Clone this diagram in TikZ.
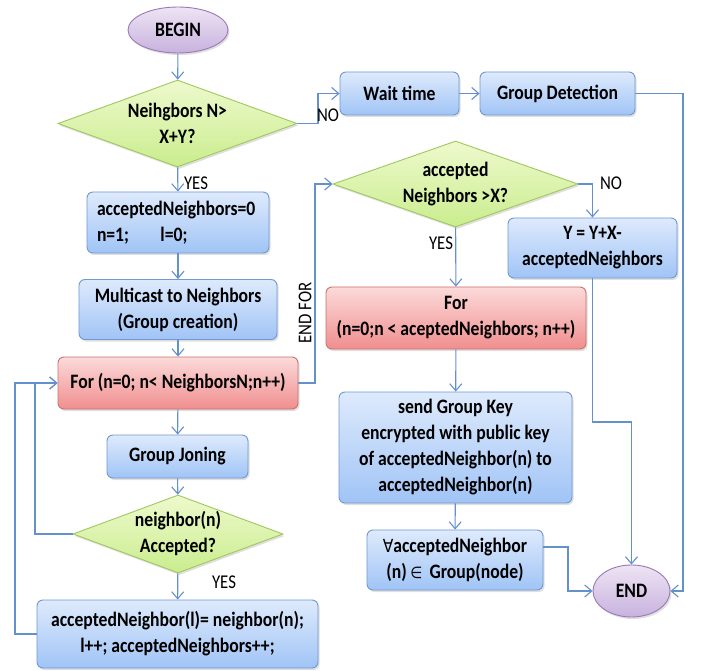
\documentclass[tikz,border=0pt]{standalone}
\usepackage{fontspec}
\setmainfont{Carlito}[FakeStretch=0.86]
\newfontfamily\symfont{DejaVu Sans}[FakeStretch=0.86]
\usetikzlibrary{shapes.geometric,arrows.meta,shadows}
\definecolor{bluetop}{RGB}{222,234,252}
\definecolor{bluebot}{RGB}{160,196,246}
\definecolor{blueline}{RGB}{112,152,210}
\definecolor{redtop}{RGB}{252,218,218}
\definecolor{redbot}{RGB}{240,142,142}
\definecolor{redline}{RGB}{205,112,112}
\definecolor{greentop}{RGB}{238,249,205}
\definecolor{greenbot}{RGB}{202,237,142}
\definecolor{greenline}{RGB}{160,200,92}
\definecolor{purptop}{RGB}{238,228,244}
\definecolor{purpbot}{RGB}{200,178,222}
\definecolor{purpline}{RGB}{152,122,182}
\definecolor{conncol}{RGB}{100,145,206}
\tikzset{
  txt/.style={font=\bfseries\fontsize{20.5}{26}\selectfont, align=center, inner sep=1pt},
  shad/.style={drop shadow={opacity=0.25, shadow xshift=1.5pt, shadow yshift=-2pt}},
  bluebox/.style={txt, shad, draw=blueline, line width=0.9pt, rounded corners=6pt, top color=bluetop, bottom color=bluebot},
  redbox/.style={txt, shad, draw=redline, line width=0.9pt, rounded corners=6pt, top color=redtop, bottom color=redbot},
  decision/.style={txt, shad, diamond, draw=greenline, line width=0.9pt, top color=greentop, bottom color=greenbot, inner sep=0pt},
  terminal/.style={txt, shad, ellipse, draw=purpline, line width=0.9pt, top color=purptop, bottom color=purpbot, inner sep=0pt},
  conn/.style={draw=conncol, line width=1.1pt, -{Straight Barb[length=7pt,width=12pt]}},
  lbl/.style={font=\fontsize{19.5}{20}\selectfont, inner sep=0pt},
}
\begin{document}
\begin{tikzpicture}[x=1pt,y=-1pt]
\useasboundingbox[fill=white] (0,0) rectangle (702,671);

\node[terminal, minimum width=100, minimum height=46] (begin) at (178,30) {BEGIN};
\node[decision, minimum width=239, minimum height=87, aspect=2.75] (d1) at (177.5,123.5) {Neihgbors N>\\X+Y?};
\node[bluebox, align=left, minimum width=182, minimum height=61, text width=162] (init) at (178,222.5) {acceptedNeighbors=0\\n=1;\hspace{1.2em} l=0;};
\node[bluebox, minimum width=198, minimum height=60] (mcast) at (178,309.5) {Multicast to Neighbors\\(Group creation)};
\node[redbox, minimum width=240, minimum height=52] (for1) at (178,383) {For (n=0; n< NeighborsN;n++)};
\node[bluebox, minimum width=141, minimum height=43] (join) at (177.5,456.5) {Group Joning};
\node[decision, minimum width=210, minimum height=78, aspect=2.7] (d2) at (178,534) {neighbor(n)\\Accepted?};
\node[bluebox, minimum width=281, minimum height=68] (assign) at (177.5,634) {acceptedNeighbor(l)= neighbor(n);\\l++; acceptedNeighbors++;};

\node[bluebox, minimum width=119, minimum height=43] (wait) at (399.5,93.5) {Wait time};
\node[bluebox, minimum width=155, minimum height=43] (detect) at (557.5,93.5) {Group Detection};
\node[decision, minimum width=245, minimum height=86, aspect=2.85] (d3) at (455.5,184) {accepted\\Neighbors >X?};
\node[bluebox, minimum width=169, minimum height=60] (ybox) at (592.5,248) {Y = Y+X-\\acceptedNeighbors};
\node[redbox, minimum width=260, minimum height=62] (for2) at (456,318) {For\\(n=0;n < aceptedNeighbors; n++)};
\node[bluebox, minimum width=233, minimum height=111] (send) at (455.5,447.5) {send Group Key\\encrypted with public key\\of acceptedNeighbor(n) to\\acceptedNeighbor(n)};
\node[bluebox, minimum width=176, minimum height=60] (forall) at (455,560) {{\mdseries\symfont\fontsize{18}{26}\selectfont ∀}acceptedNeighbor\\(n)\,{\mdseries\symfont\fontsize{16}{26}\selectfont ∈}\, Group(node)};
\node[terminal, minimum width=77, minimum height=52] (end) at (631.5,591) {END};

% connectors
\draw[conn] (begin) -- (d1);
\draw[conn] (d1) -- (init);
\draw[conn] (init) -- (mcast);
\draw[conn] (mcast) -- (for1);
\draw[conn] (for1) -- (join);
\draw[conn] (join) -- (d2);
\draw[conn] (d2) -- (assign);
\draw[conn] (d1.east) -- (318,123.5) |- (wait.west);
\draw[conn] (wait) -- (detect);
\draw[conn] (detect.east) -- (683,93.5) |- (end.east);
\draw[conn] (for1.east) -- (315,383) |- (d3.west);
\draw[conn] (d3.east) -| (ybox.north);
\draw[conn] (d3) -- (for2);
\draw[conn] (for2) -- (send);
\draw[conn] (send) -- (forall);
\draw[conn] (ybox.south) -- (592.5,422) -| (end.north);
\draw[conn] ([yshift=13pt]forall.east) -- (568,547) |- (end.west);
\draw[conn] (d2.west) -- (35,534) |- (for1.west);
\draw[conn] (assign.west) -- (15,634) |- (for1.west);

% labels
\node[lbl] (no1) at (328,115) {NO};
\node[lbl] (yes1) at (196,183) {YES};
\node[lbl, rotate=90] (endfor) at (305,313) {END FOR};
\node[lbl] (no2) at (611,183) {NO};
\node[lbl] (yes2) at (441,243) {YES};
\node[lbl] (yes3) at (224,582) {YES};
\end{tikzpicture}
\end{document}
